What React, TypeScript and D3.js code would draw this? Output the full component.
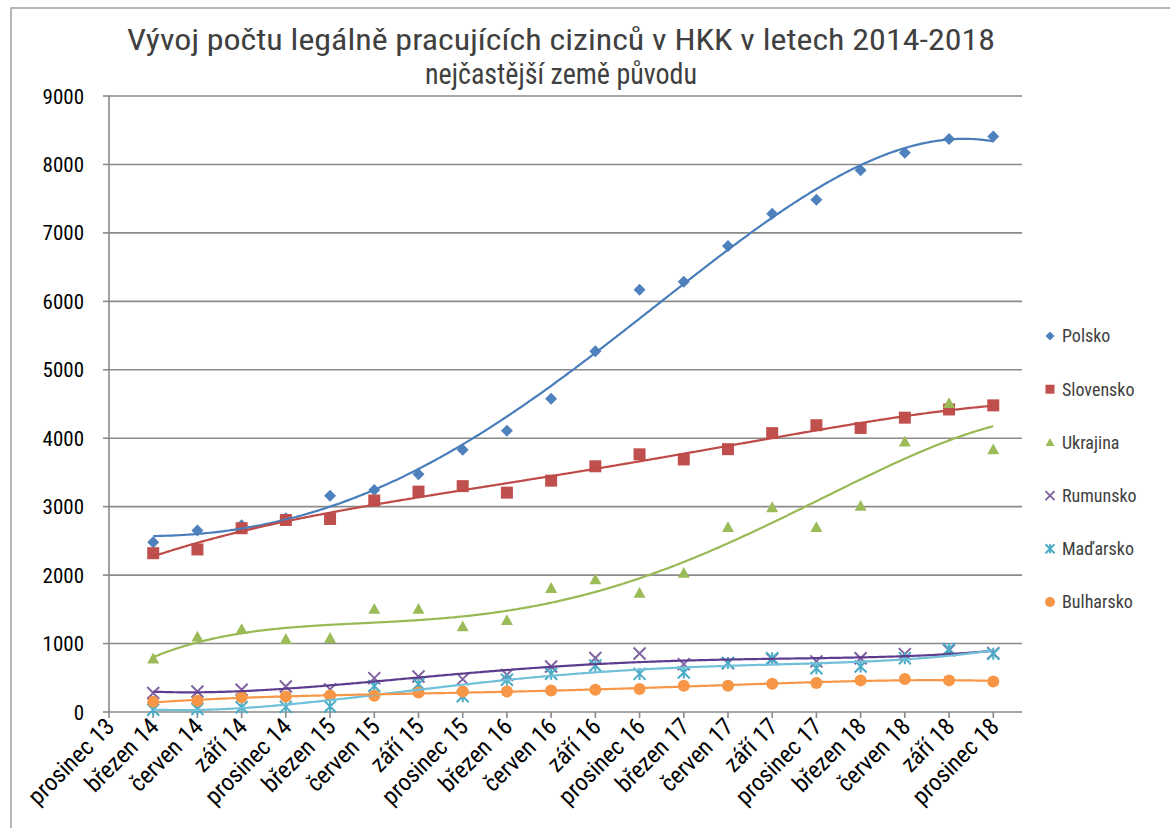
import React from 'react';
import * as d3 from 'd3';

const categories = [
  'prosinec 13', 'březen 14', 'červen 14', 'září 14', 'prosinec 14',
  'březen 15', 'červen 15', 'září 15', 'prosinec 15',
  'březen 16', 'červen 16', 'září 16', 'prosinec 16',
  'březen 17', 'červen 17', 'září 17', 'prosinec 17',
  'březen 18', 'červen 18', 'září 18', 'prosinec 18',
];
// values from březen 14 to prosinec 18 (category index 1..20)
const polsko = [2480, 2650, 2730, 2830, 3160, 3245, 3475, 3830, 4110, 4575, 5270, 6170, 6285, 6810, 7280, 7485, 7915, 8170, 8370, 8410];
const slovensko = [2320, 2375, 2685, 2805, 2820, 3090, 3220, 3300, 3205, 3380, 3590, 3765, 3690, 3840, 4075, 4190, 4150, 4300, 4420, 4480];
const ukrajina = [780, 1100, 1210, 1065, 1080, 1505, 1505, 1250, 1340, 1810, 1935, 1740, 2030, 2700, 2990, 2700, 3010, 3950, 4510, 3835];
const rumunsko = [277, 300, 325, 373, 330, 495, 518, 480, 543, 665, 790, 855, 700, 713, 773, 740, 786, 845, 900, 860];
const madarsko = [33, 43, 70, 75, 80, 380, 410, 230, 470, 560, 680, 557, 577, 717, 786, 640, 665, 785, 920, 850];
const bulharsko = [148, 165, 215, 225, 240, 237, 285, 300, 300, 315, 325, 335, 383, 383, 412, 425, 462, 482, 462, 447];

const yTicks = [0, 1000, 2000, 3000, 4000, 5000, 6000, 7000, 8000, 9000];
const titleLines = ['Vývoj počtu legálně pracujících cizinců v HKK v letech 2014-2018', 'nejčastější země původu'];

const seriesList = [
  { name: 'Polsko', values: polsko, color: '#4F81BD', trend: '#4A7EBB', marker: 'diamond' },
  { name: 'Slovensko', values: slovensko, color: '#C0504D', trend: '#BE4B48', marker: 'square' },
  { name: 'Ukrajina', values: ukrajina, color: '#9BBB59', trend: '#98B954', marker: 'triangle' },
  { name: 'Rumunsko', values: rumunsko, color: '#8064A2', trend: '#5E3D8F', marker: 'x' },
  { name: 'Maďarsko', values: madarsko, color: '#4BACC6', trend: '#6FC0D8', marker: 'star' },
  { name: 'Bulharsko', values: bulharsko, color: '#F79646', trend: '#F79646', marker: 'circle' },
];
const TREND_DEGREE = 4;

const FONT = "'Liberation Sans Narrow', 'Arial Narrow', 'Roboto Condensed', 'DejaVu Sans Condensed', sans-serif";
const TEXT = '#404040';

// least-squares polynomial fit (like a spreadsheet polynomial trendline)
function polyfit(xs: number[], ys: number[], deg: number) {
  const n = deg + 1;
  const A: number[][] = Array.from({ length: n }, () => new Array(n + 1).fill(0));
  for (let k = 0; k < xs.length; k++) {
    const p: number[] = [];
    for (let i = 0; i < n; i++) p.push(Math.pow(xs[k], i));
    for (let i = 0; i < n; i++) {
      for (let j = 0; j < n; j++) A[i][j] += p[i] * p[j];
      A[i][n] += p[i] * ys[k];
    }
  }
  for (let c = 0; c < n; c++) {
    let piv = c;
    for (let r = c + 1; r < n; r++) if (Math.abs(A[r][c]) > Math.abs(A[piv][c])) piv = r;
    [A[c], A[piv]] = [A[piv], A[c]];
    for (let r = 0; r < n; r++) {
      if (r === c) continue;
      const f = A[r][c] / A[c][c];
      for (let j = c; j <= n; j++) A[r][j] -= f * A[c][j];
    }
  }
  const coef = A.map((row, i) => row[n] / row[i]);
  return (x: number) => coef.reduce((s, c, i) => s + c * Math.pow(x, i), 0);
}

function markerPath(type: string, size: number) {
  const h = size / 2;
  switch (type) {
    case 'diamond':
      return `M0,${-h}L${h},0L0,${h}L${-h},0Z`;
    case 'square':
      return `M${-h},${-h}H${h}V${h}H${-h}Z`;
    case 'triangle':
      return `M0,${-h}L${h},${h * 0.8}L${-h},${h * 0.8}Z`;
    case 'circle':
      return d3.symbol().type(d3.symbolCircle).size(Math.PI * h * h)() as string;
    default:
      return '';
  }
}

function Marker({ type, x, y, color, size }: { type: string; x: number; y: number; color: string; size: number }) {
  const h = size / 2;
  if (type === 'x') {
    return (
      <path transform={`translate(${x},${y})`} d={`M${-h},${-h}L${h},${h}M${h},${-h}L${-h},${h}`} stroke={color} strokeWidth={2} fill="none" />
    );
  }
  if (type === 'star') {
    return (
      <path transform={`translate(${x},${y})`} d={`M${-h},${-h}L${h},${h}M${h},${-h}L${-h},${h}M0,${-h}V${h}`} stroke={color} strokeWidth={2} fill="none" />
    );
  }
  return <path transform={`translate(${x},${y})`} d={markerPath(type, size)} fill={color} />;
}

export default function App() {
  const W = 1170, H = 828;
  const left = 109, right = 1022, top = 96, bottom = 712;
  const x = d3.scaleLinear().domain([0, 20.65]).range([left, right]);
  const y = d3.scaleLinear().domain([0, 9000]).range([bottom, top]);

  const idx = d3.range(1, 21);
  const norm = (i: number) => (i - 10.5) / 9.5;
  const line = d3.line<[number, number]>().x(d => d[0]).y(d => d[1]);

  const trendPath = (values: number[], deg: number) => {
    const f = polyfit(idx.map(norm), values, deg);
    const pts: [number, number][] = d3.range(0, 401).map(k => {
      const i = 1 + (19 * k) / 400;
      return [x(i), y(f(norm(i)))];
    });
    return line(pts) as string;
  };
  const trends = seriesList.map(s => trendPath(s.values, TREND_DEGREE));

  const legendY0 = 336, legendStep = 53.2;

  return (
    <svg width={W} height={H} style={{ position: 'absolute', left: 0, top: 0, background: '#fff' }} fontFamily={FONT}>
      <rect x={0} y={0} width={W} height={H} fill="#fff" />
      <path d={`M11,${H}V8H${W}`} fill="none" stroke="#a0a0a0" strokeWidth={1.5} />
      {titleLines.map((t, i) => (
        <text key={i} x={561} y={50 + i * 34} textAnchor="middle" fontSize={29} fill={TEXT}
          textLength={i === 0 ? 868 : 272} lengthAdjust="spacingAndGlyphs">{t}</text>
      ))}
      {yTicks.map(v => (
        <g key={v}>
          {v > 0 && <line x1={left} x2={right} y1={y(v)} y2={y(v)} stroke="#8a8a8a" strokeWidth={1.6} />}
          <line x1={left - 6} x2={left} y1={y(v)} y2={y(v)} stroke="#8a8a8a" strokeWidth={1.6} />
          <text x={84} y={y(v)} dy="0.36em" textAnchor="end" fontSize={21} fill="#000">{v}</text>
        </g>
      ))}
      <line x1={left} x2={left} y1={top} y2={bottom} stroke="#8a8a8a" strokeWidth={1.6} />
      <line x1={left} x2={right} y1={bottom} y2={bottom} stroke="#8a8a8a" strokeWidth={1.6} />
      {categories.map((c, i) => (
        <g key={c}>
          <line x1={x(i)} x2={x(i)} y1={bottom} y2={bottom + 6} stroke="#8a8a8a" strokeWidth={1.6} />
          <text transform={`translate(${x(i) + 7},${bottom + 16}) rotate(-45)`} textAnchor="end" fontSize={24} fill="#000">{c}</text>
        </g>
      ))}
      {seriesList.map((s) => (
        <g key={s.name}>
          {s.values.map((v, k) => (
            <Marker key={k} type={s.marker} x={x(k + 1)} y={y(v)} color={s.color} size={12} />
          ))}
        </g>
      ))}
      {seriesList.map((s, si) => (
        <path key={s.name} d={trends[si]} fill="none" stroke={s.trend} strokeWidth={2.2} />
      ))}
      {seriesList.map((s, si) => (
        <g key={s.name} transform={`translate(0,${legendY0 + si * legendStep})`}>
          <Marker type={s.marker} x={1050} y={0} color={s.color} size={s.marker === 'circle' ? 10 : 9} />
          <text x={1062} y={0} dy="0.35em" fontSize={18} fill={TEXT}>{s.name}</text>
        </g>
      ))}
    </svg>
  );
}
